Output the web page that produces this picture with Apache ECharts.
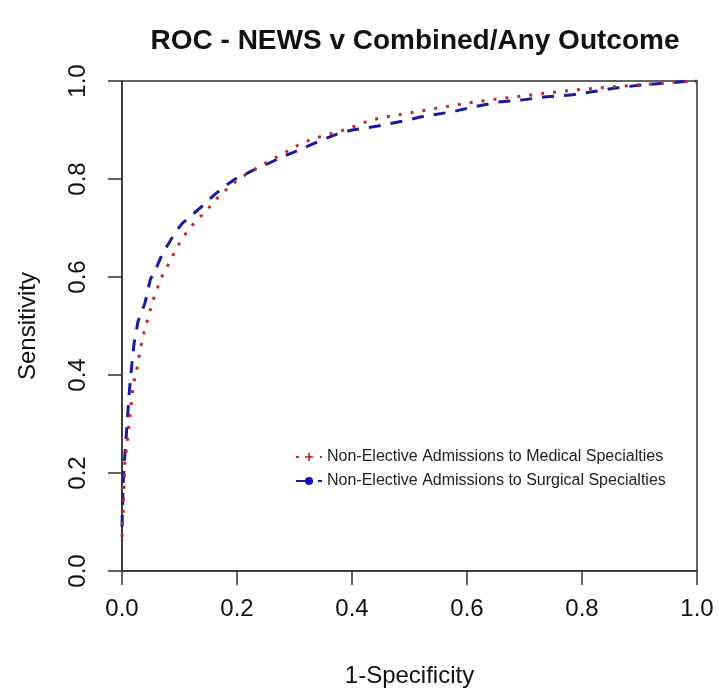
<!DOCTYPE html>
<html>
<head>
<meta charset="utf-8">
<script src="https://cdn.jsdelivr.net/npm/echarts@6/dist/echarts.min.js"></script>
<style>
html,body{margin:0;padding:0;background:#fff;}
#chart{width:719px;height:693px;}
</style>
</head>
<body>
<div id="chart"></div>
<script>
// Data
const seriesNames = ['Non-Elective Admissions to Medical Specialties', 'Non-Elective Admissions to Surgical Specialties'];
const medicalFpr = [0,0.002,0.005,0.01,0.014,0.017,0.019,0.023,0.028,0.031,0.035,0.04,0.047,0.052,0.06,0.066,0.078,0.089,0.1,0.115,0.13,0.148,0.165,0.183,0.2,0.219,0.24,0.263,0.285,0.306,0.327,0.347,0.367,0.393,0.42,0.45,0.5,0.55,0.6,0.65,0.7,0.75,0.8,0.85,0.9,0.95,1.0];
const medicalTpr = [0.07,0.12,0.222,0.273,0.322,0.35,0.375,0.398,0.424,0.447,0.47,0.496,0.522,0.547,0.57,0.594,0.62,0.645,0.669,0.696,0.716,0.737,0.76,0.78,0.797,0.812,0.826,0.841,0.855,0.869,0.88,0.887,0.894,0.902,0.915,0.925,0.935,0.945,0.955,0.963,0.97,0.977,0.983,0.988,0.992,0.996,1.0];
const surgicalFpr = [0,0.002,0.004,0.007,0.01,0.013,0.017,0.021,0.028,0.04,0.049,0.06,0.071,0.082,0.092,0.105,0.118,0.122,0.14,0.158,0.178,0.197,0.215,0.235,0.255,0.275,0.295,0.315,0.337,0.357,0.375,0.4,0.445,0.487,0.529,0.574,0.61,0.654,0.7,0.739,0.784,0.823,0.866,0.906,0.948,0.988,1.0];
const surgicalTpr = [0.09,0.18,0.22,0.27,0.32,0.37,0.42,0.465,0.51,0.547,0.594,0.62,0.649,0.67,0.69,0.71,0.722,0.727,0.745,0.765,0.785,0.80,0.81,0.822,0.832,0.843,0.853,0.863,0.874,0.884,0.892,0.90,0.908,0.918,0.929,0.937,0.947,0.957,0.962,0.968,0.972,0.979,0.987,0.992,0.996,1.0,1.0];
const tickValues = [0, 0.2, 0.4, 0.6, 0.8, 1.0];

const FONT = '"Liberation Sans", Arial, Helvetica, sans-serif';
const pair = (xs, ys) => xs.map((x, i) => [x, ys[i]]);

const chart = echarts.init(document.getElementById('chart'), null, {renderer: 'canvas'});
const axisCommon = {
  type: 'value', min: 0, max: 1, interval: 0.2,
  axisLine: {show: true, lineStyle: {color: '#333', width: 1.5}},
  axisTick: {show: true, length: 14, lineStyle: {color: '#333', width: 1.5}},
  splitLine: {show: false},
  nameTextStyle: {color: '#111', fontSize: 24, fontFamily: FONT}
};
chart.setOption({
  backgroundColor: '#fff',
  animation: false,
  title: {
    text: 'ROC - NEWS v Combined/Any Outcome',
    left: 410, top: 22, textAlign: 'center',
    textStyle: {fontFamily: FONT, fontSize: 28, fontWeight: 'bold', color: '#111'}
  },
  grid: {left: 122, right: 22, top: 81, bottom: 122, show: true, borderColor: '#333', borderWidth: 1.5},
  legend: {
    orient: 'vertical', left: 290, top: 444, itemGap: 8,
    itemWidth: 26, itemHeight: 10,
    textStyle: {fontFamily: FONT, fontSize: 16, color: '#222'},
    data: seriesNames
  },
  xAxis: Object.assign({}, axisCommon, {
    name: '1-Specificity', nameLocation: 'middle', nameGap: 93,
    axisLabel: {margin: 26, fontSize: 24, fontFamily: FONT, color: '#111',
      formatter: v => tickValues.some(t => Math.abs(t - v) < 1e-9) ? v.toFixed(1) : ''}
  }),
  yAxis: Object.assign({}, axisCommon, {
    name: 'Sensitivity', nameLocation: 'middle', nameGap: 82,
    axisLabel: {margin: 32, rotate: 90, fontSize: 24, fontFamily: FONT, color: '#111',
      formatter: v => tickValues.some(t => Math.abs(t - v) < 1e-9) ? v.toFixed(1) : ''}
  }),
  series: [
    {
      name: seriesNames[0], type: 'line', data: pair(medicalFpr, medicalTpr),
      showSymbol: false, symbol: 'path://M4,0H6V4H10V6H6V10H4V6H0V4H4Z', symbolSize: 8,
      itemStyle: {color: '#c0282a'},
      lineStyle: {color: '#c0282a', width: 3, type: [3, 9]},
      z: 3
    },
    {
      name: seriesNames[1], type: 'line', data: pair(surgicalFpr, surgicalTpr),
      showSymbol: false, symbol: 'circle', symbolSize: 8,
      itemStyle: {color: '#1010b8'},
      lineStyle: {color: '#1a1aa0', width: 3, type: [12, 10]},
      z: 2
    }
  ]
});
</script>
</body>
</html>
